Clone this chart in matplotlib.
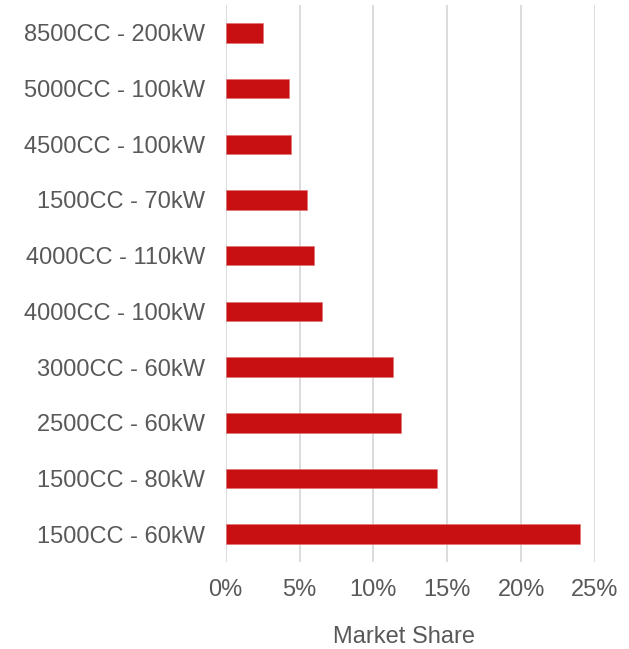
import matplotlib.pyplot as plt
from matplotlib.ticker import FuncFormatter

plt.rcParams['font.family'] = ['Liberation Sans', 'DejaVu Sans']

categories = ['1500CC - 60kW', '1500CC - 80kW', '2500CC - 60kW', '3000CC - 60kW',
              '4000CC - 100kW', '4000CC - 110kW', '1500CC - 70kW', '4500CC - 100kW',
              '5000CC - 100kW', '8500CC - 200kW']
market_share = [23.95, 14.3, 11.9, 11.3, 6.5, 6.0, 5.5, 4.4, 4.3, 2.55]
x_ticks = [0, 5, 10, 15, 20, 25]

text_color = '#595959'

fig = plt.figure(figsize=(6.29, 6.49), dpi=100)
ax = fig.add_axes([0.3588, 0.134, 0.5872, 0.8583])

ax.barh(range(len(categories)), market_share, height=0.35, color='#c80f12',
        edgecolor='#e07070', linewidth=0.4, zorder=3)

ax.set_xlim(0, 25)
ax.set_ylim(-0.5, len(categories) - 0.5)
ax.set_xticks(x_ticks)
ax.xaxis.set_major_formatter(FuncFormatter(lambda v, p: '{:d}%'.format(int(v))))
ax.set_yticks(range(len(categories)))
ax.set_yticklabels(categories)

ax.grid(axis='x', color='#d9d9d9', linewidth=1.3, zorder=0)
for s in ax.spines.values():
    s.set_visible(False)
ax.tick_params(axis='both', length=0, labelsize=17, colors=text_color)
ax.tick_params(axis='x', pad=12)
ax.tick_params(axis='y', pad=15)

ax.set_xlabel('Market Share', fontsize=17, color=text_color, labelpad=18)
ax.xaxis.label.set_x(0.484)

fig.savefig('out.png', dpi=100)
